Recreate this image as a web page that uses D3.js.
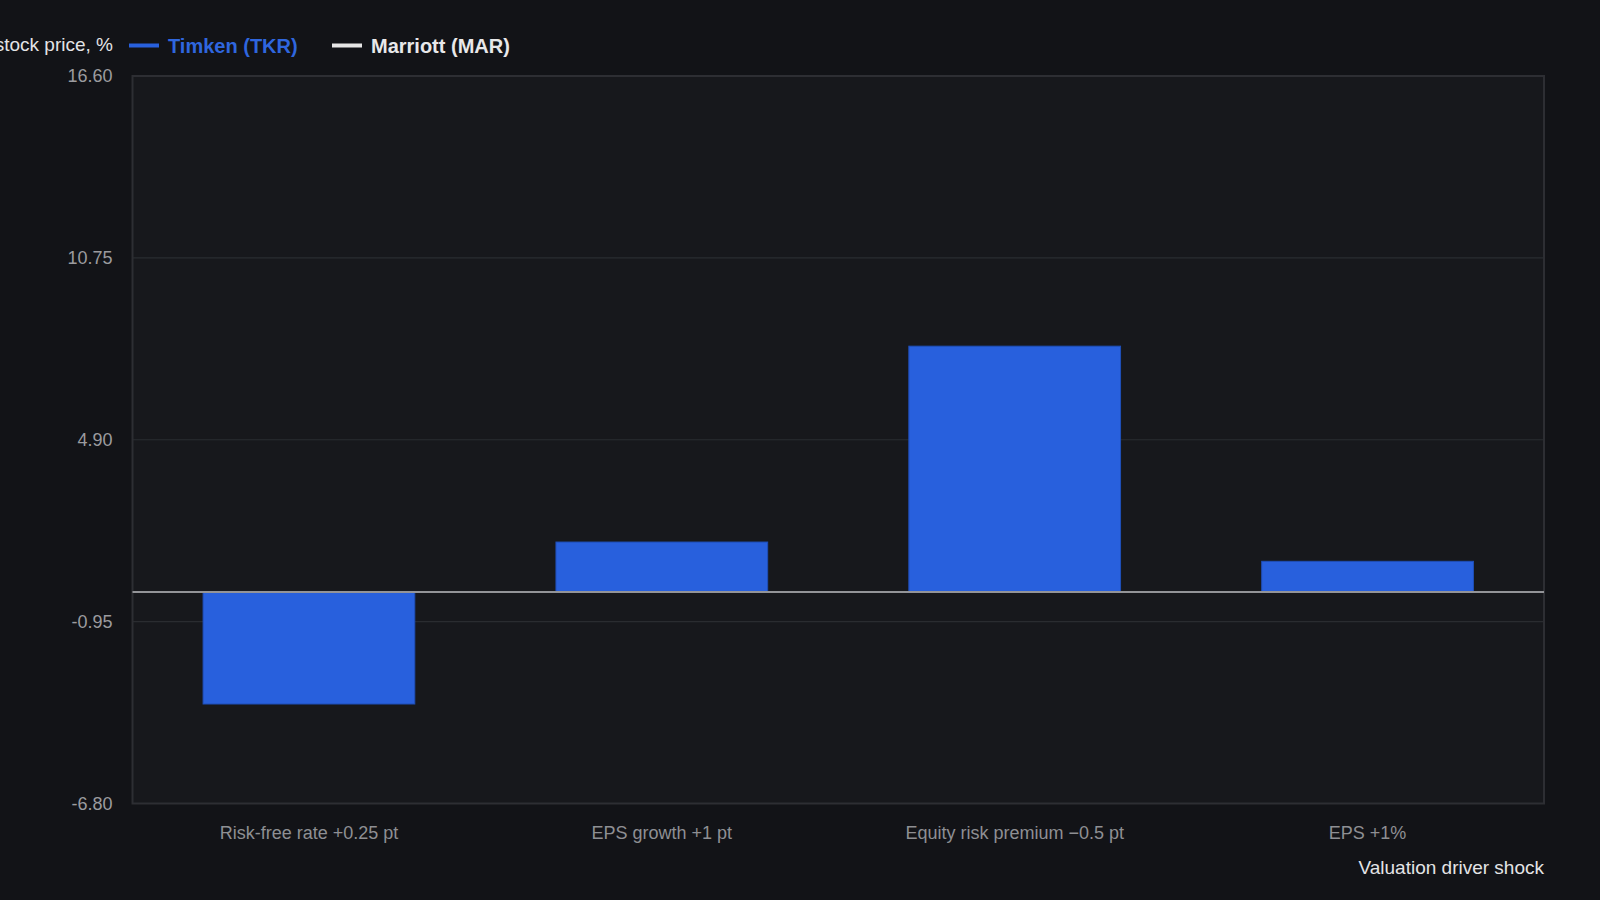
<!DOCTYPE html>
<html>
<head>
<meta charset="utf-8">
<script src="https://cdn.jsdelivr.net/npm/d3@7/dist/d3.min.js"></script>
<style>
  html, body { margin: 0; padding: 0; background: #121317; }
  svg { display: block; font-family: "Liberation Sans", Arial, Helvetica, sans-serif; }
</style>
</head>
<body>
<svg id="chart" width="1600" height="900"></svg>
<script>
const categories = ["Risk-free rate +0.25 pt", "EPS growth +1 pt", "Equity risk premium \u22120.5 pt", "EPS +1%"];
const seriesNames = ["Timken (TKR)", "Marriott (MAR)"];
const seriesColors = ["#2860dd", "#e6e6e6"];
const timkenValues = [-3.60, 1.61, 7.91, 0.99];
const yTicks = [-6.80, -0.95, 4.90, 10.75, 16.60];
const yTitle = "Change in stock price, %";
const xTitle = "Valuation driver shock";

const svg = d3.select("#chart");
const W = 1600, H = 900;
const m = { left: 132.5, right: 56, top: 76, bottom: 96.5 };
const pw = W - m.left - m.right, ph = H - m.top - m.bottom;

svg.append("rect").attr("width", W).attr("height", H).attr("fill", "#121317");

const x = d3.scaleBand().domain(categories).range([m.left, m.left + pw]).paddingInner(0.4).paddingOuter(0.2);
const y = d3.scaleLinear().domain([yTicks[0], yTicks[yTicks.length - 1]]).range([m.top + ph, m.top]);

// plot background
svg.append("rect").attr("x", m.left).attr("y", m.top).attr("width", pw).attr("height", ph)
  .attr("fill", "#17181c");

// gridlines
svg.append("g").selectAll("line").data(yTicks).join("line")
  .attr("x1", m.left).attr("x2", m.left + pw)
  .attr("y1", d => y(d)).attr("y2", d => y(d))
  .attr("stroke", "#2a2c30").attr("stroke-width", 1.2);

// y axis labels
const fmt = d3.format(".2f");
const yAxis = d3.axisLeft(y).tickValues(yTicks).tickFormat(d => fmt(d).replace("\u2212", "-")).tickSize(0).tickPadding(20);
const yg = svg.append("g").attr("transform", `translate(${m.left},0)`).call(yAxis);
yg.select(".domain").remove();
yg.selectAll("text").attr("fill", "#9b9b9f").attr("font-size", 18);

// bars
svg.append("g").selectAll("rect").data(timkenValues).join("rect")
  .attr("x", (d, i) => x(categories[i]))
  .attr("width", x.bandwidth())
  .attr("y", d => Math.min(y(0), y(d)))
  .attr("height", d => Math.abs(y(d) - y(0)))
  .attr("fill", seriesColors[0])
  .attr("stroke", "#1f4fb8").attr("stroke-width", 1);

// plot border
svg.append("rect").attr("x", m.left).attr("y", m.top).attr("width", pw).attr("height", ph)
  .attr("fill", "none").attr("stroke", "#2d2e33").attr("stroke-width", 2);

// zero line
svg.append("line").attr("x1", m.left).attr("x2", m.left + pw)
  .attr("y1", y(0)).attr("y2", y(0))
  .attr("stroke", "#939498").attr("stroke-width", 2);

// x axis labels
const xAxis = d3.axisBottom(x).tickSize(0).tickPadding(23);
const xg = svg.append("g").attr("transform", `translate(0,${m.top + ph})`).call(xAxis);
xg.select(".domain").remove();
xg.selectAll("text").attr("fill", "#8e8f93").attr("font-size", 18);

// x title
svg.append("text").attr("x", m.left + pw).attr("y", 867).attr("dy", "0.35em")
  .attr("text-anchor", "end").attr("fill", "#e4e4e6").attr("font-size", 19).text(xTitle);

// y title (top-left, runs off the left edge as in the reference)
svg.append("text").attr("x", 113).attr("y", 44).attr("dy", "0.35em")
  .attr("text-anchor", "end").attr("fill", "#e4e4e6").attr("font-size", 19).text(yTitle);

// legend
const legendX = [129, 332];
const lg = svg.append("g");
seriesNames.forEach((name, i) => {
  lg.append("line").attr("x1", legendX[i]).attr("x2", legendX[i] + 30)
    .attr("y1", 45.5).attr("y2", 45.5)
    .attr("stroke", seriesColors[i]).attr("stroke-width", 4);
  lg.append("text").attr("x", legendX[i] + 39).attr("y", 46).attr("dy", "0.35em")
    .attr("fill", i === 0 ? "#2f66de" : "#e8e8ea").attr("font-weight", "bold")
    .attr("font-size", 20).text(name);
});
</script>
</body>
</html>
